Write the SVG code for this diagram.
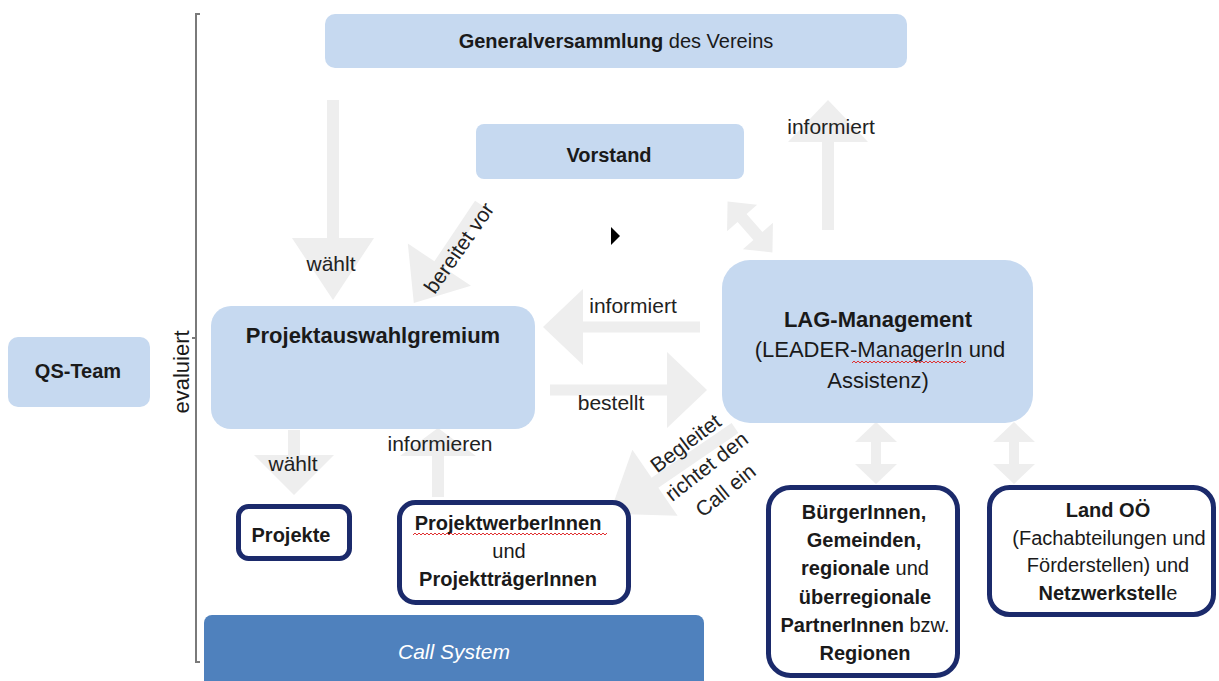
<svg xmlns="http://www.w3.org/2000/svg" width="1219" height="681" viewBox="0 0 1219 681">
<style>
.bg{fill:#ffffff}
.lb{fill:#c6d9f0}
.nv{fill:#ffffff;stroke:#1b2a6b;stroke-width:5}
.cs{fill:#4f81bd}
.arr{fill:#eeeeee}
text{font-family:"Liberation Sans",Arial,sans-serif;fill:#1a1a1a}
.b{font-weight:bold}
.t20{font-size:20px}
.t21{font-size:21px}
.t22{font-size:22px}
.lbl{font-size:21px;fill:#222}
.wavy{fill:none;stroke:#e03030;stroke-width:1}
</style>
<rect class="bg" x="0" y="0" width="1219" height="681"/>

<g id="connectors">
  <path class="arr" transform="translate(333,100) rotate(90)" d="M0,-6 L138,-6 L138,-41 L200,0 L138,41 L138,6 L0,6Z"/>
  <path class="arr" transform="translate(480,204) rotate(123.8)" d="M0,-6 L73,-6 L73,-38 L119,0 L73,38 L73,6 L0,6Z"/>
  <path class="arr" transform="translate(750,227) rotate(48.7)" d="M-34,0 L-12,-20 L-12,-6 L12,-6 L12,-20 L34,0 L12,20 L12,6 L-12,6 L-12,20Z"/>
  <path class="arr" transform="translate(828,230) rotate(-90)" d="M0,-6 L88,-6 L88,-40 L130,0 L88,40 L88,6 L0,6Z"/>
  <path class="arr" transform="translate(700,327) rotate(180)" d="M0,-5.5 L117,-5.5 L117,-38 L157,0 L117,38 L117,5.5 L0,5.5Z"/>
  <path class="arr" transform="translate(550,390)" d="M0,-5.5 L117,-5.5 L117,-38 L157,0 L117,38 L117,5.5 L0,5.5Z"/>
  <path class="arr" transform="translate(735,428) rotate(145.6)" d="M0,-6 L97,-6 L97,-40 L152,0 L97,40 L97,6 L0,6Z"/>
  <path class="arr" transform="translate(294,430) rotate(90)" d="M0,-6 L25,-6 L25,-40 L65,0 L25,40 L25,6 L0,6Z"/>
  <path class="arr" transform="translate(438,497) rotate(-90)" d="M0,-6 L41,-6 L41,-38 L69,0 L41,38 L41,6 L0,6Z"/>
  <path class="arr" transform="translate(876,453) rotate(90)" d="M-31,0 L-11,-21 L-11,-5 L11,-5 L11,-21 L31,0 L11,21 L11,5 L-11,5 L-11,21Z"/>
  <path class="arr" transform="translate(1014,453) rotate(90)" d="M-31,0 L-11,-21 L-11,-5 L11,-5 L11,-21 L31,0 L11,21 L11,5 L-11,5 L-11,21Z"/>
  <text class="lbl" x="331" y="271" text-anchor="middle">wählt</text>
  <text class="lbl" x="465" y="252" text-anchor="middle" transform="rotate(-55 465 252)">bereitet vor</text>
  <text class="lbl" x="831" y="134" text-anchor="middle">informiert</text>
  <text class="lbl" x="633" y="313" text-anchor="middle">informiert</text>
  <text class="lbl" x="611" y="410" text-anchor="middle">bestellt</text>
  <text class="lbl" x="293" y="471" text-anchor="middle">wählt</text>
  <text class="lbl" x="440" y="451" text-anchor="middle">informieren</text>
  <text class="lbl" x="690" y="449" text-anchor="middle" transform="rotate(-37 690 449)">Begleitet</text>
  <text class="lbl" x="711" y="472" text-anchor="middle" transform="rotate(-38 711 472)">richtet den</text>
  <text class="lbl" x="730" y="496" text-anchor="middle" transform="rotate(-39 730 496)">Call ein</text>
  <polygon points="611,227 611,245 620,236" fill="#000"/>
</g>

<g id="bracket">
  <path d="M200,14 L196,14 L196,662 L200,662 M196,338 L192,338" fill="none" stroke="#7a7a7a" stroke-width="2"/>
  <text class="t22" x="189" y="372" text-anchor="middle" transform="rotate(-90 189 372)">evaluiert</text>
</g>

<g id="generalversammlung">
  <rect class="lb" x="325" y="14" width="582" height="54" rx="10"/>
  <text class="t20" x="616" y="48" text-anchor="middle"><tspan class="b">Generalversammlung</tspan> des Vereins</text>
</g>

<g id="vorstand">
  <rect class="lb" x="476" y="124" width="268" height="55" rx="8"/>
  <text class="t20 b" x="609" y="162" text-anchor="middle">Vorstand</text>
</g>

<g id="qs-team">
  <rect class="lb" x="8" y="337" width="142" height="70" rx="10"/>
  <text class="t20 b" x="78" y="378" text-anchor="middle">QS-Team</text>
</g>

<g id="projektauswahlgremium">
  <rect class="lb" x="211" y="306" width="324" height="123" rx="20"/>
  <text class="t22 b" x="373" y="343" text-anchor="middle">Projektauswahlgremium</text>
</g>

<g id="lag-management">
  <rect class="lb" x="722" y="260" width="311" height="163" rx="28"/>
  <text class="t22 b" x="878" y="327" text-anchor="middle">LAG-Management</text>
  <text class="t22" x="880" y="357" text-anchor="middle">(LEADER-ManagerIn und</text>
  <text class="t22" x="878" y="388" text-anchor="middle">Assistenz)</text>
  <path class="wavy" d="M852,363 l2,-2 l2,2 l2,-2 l2,2 l2,-2 l2,2 l2,-2 l2,2 l2,-2 l2,2 l2,-2 l2,2 l2,-2 l2,2 l2,-2 l2,2 l2,-2 l2,2 l2,-2 l2,2 l2,-2 l2,2 l2,-2 l2,2 l2,-2 l2,2 l2,-2 l2,2 l2,-2 l2,2 l2,-2 l2,2 l2,-2 l2,2 l2,-2 l2,2 l2,-2 l2,2 l2,-2 l2,2 l2,-2 l2,2 l2,-2 l2,2 l2,-2 l2,2 l2,-2 l2,2 l2,-2 l2,2 l2,-2 l2,2 l2,-2 l2,2 l2,-2 l2,2 l2,-2"/>
</g>

<g id="projekte">
  <rect class="nv" x="238.5" y="506.5" width="111" height="52" rx="10"/>
  <text class="t20 b" x="291" y="542" text-anchor="middle">Projekte</text>
</g>

<g id="projektwerber">
  <rect class="nv" x="399.5" y="502.5" width="229" height="100" rx="16"/>
  <text class="t20 b" x="508" y="530" text-anchor="middle">ProjektwerberInnen</text>
  <text class="t20" x="509" y="558" text-anchor="middle">und</text>
  <text class="t20 b" x="508" y="586" text-anchor="middle">ProjektträgerInnen</text>
  <path class="wavy" d="M413,535 l2,-2 l2,2 l2,-2 l2,2 l2,-2 l2,2 l2,-2 l2,2 l2,-2 l2,2 l2,-2 l2,2 l2,-2 l2,2 l2,-2 l2,2 l2,-2 l2,2 l2,-2 l2,2 l2,-2 l2,2 l2,-2 l2,2 l2,-2 l2,2 l2,-2 l2,2 l2,-2 l2,2 l2,-2 l2,2 l2,-2 l2,2 l2,-2 l2,2 l2,-2 l2,2 l2,-2 l2,2 l2,-2 l2,2 l2,-2 l2,2 l2,-2 l2,2 l2,-2 l2,2 l2,-2 l2,2 l2,-2 l2,2 l2,-2 l2,2 l2,-2 l2,2 l2,-2 l2,2 l2,-2 l2,2 l2,-2 l2,2 l2,-2 l2,2 l2,-2 l2,2 l2,-2 l2,2 l2,-2 l2,2 l2,-2 l2,2 l2,-2 l2,2 l2,-2 l2,2 l2,-2 l2,2 l2,-2 l2,2 l2,-2 l2,2 l2,-2 l2,2 l2,-2 l2,2 l2,-2 l2,2 l2,-2 l2,2 l2,-2 l2,2 l2,-2 l2,2 l2,-2 l2,2 l2,-2"/>
</g>

<g id="call-system">
  <rect class="cs" x="204" y="615" width="500" height="90" rx="8"/>
  <text class="t21" x="454" y="659" text-anchor="middle" font-style="italic" style="fill:#ffffff">Call System</text>
</g>

<g id="buergerinnen">
  <rect class="nv" x="768.5" y="487.5" width="189" height="188" rx="22"/>
  <text class="t20 b" x="864" y="519" text-anchor="middle">BürgerInnen,</text>
  <text class="t20 b" x="864" y="547" text-anchor="middle">Gemeinden,</text>
  <text class="t20" x="865" y="575" text-anchor="middle"><tspan class="b">regionale</tspan> und</text>
  <text class="t20 b" x="865" y="604" text-anchor="middle">überregionale</text>
  <text class="t20" x="865" y="632" text-anchor="middle"><tspan class="b">PartnerInnen</tspan> bzw.</text>
  <text class="t20 b" x="865" y="660" text-anchor="middle">Regionen</text>
</g>

<g id="land-ooe">
  <rect class="nv" x="989.5" y="487.5" width="224" height="127" rx="20"/>
  <text class="t20 b" x="1108" y="517" text-anchor="middle">Land OÖ</text>
  <text class="t20" x="1109" y="545" text-anchor="middle">(Fachabteilungen und</text>
  <text class="t20" x="1108" y="572" text-anchor="middle">Förderstellen) und</text>
  <text class="t20" x="1108" y="600" text-anchor="middle"><tspan class="b">Netzwerkstell</tspan>e</text>
</g>
</svg>
